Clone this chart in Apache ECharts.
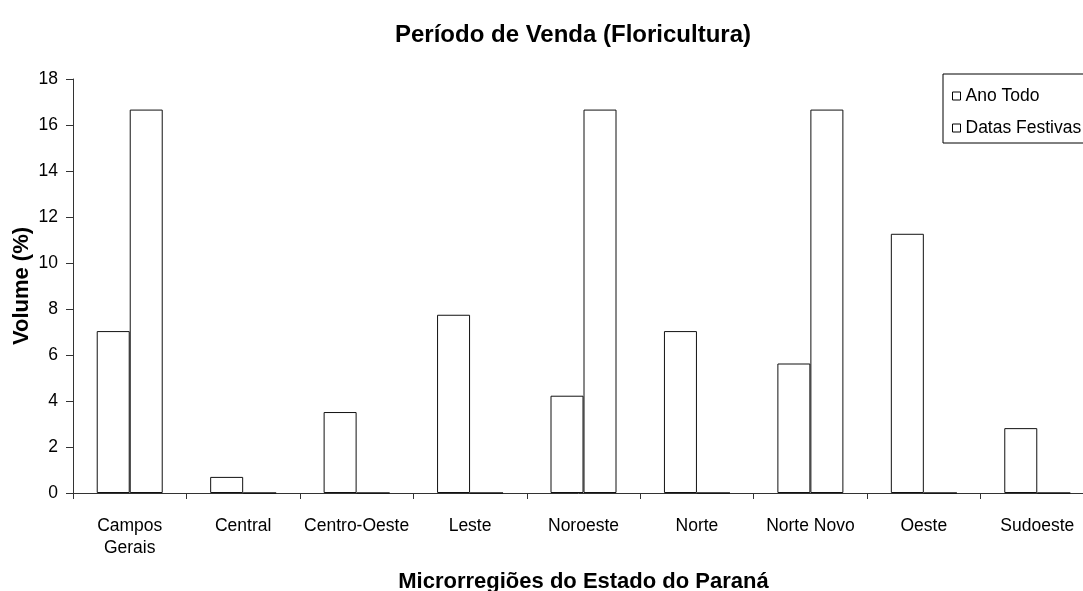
<!DOCTYPE html>
<html>
<head>
<meta charset="utf-8">
<script src="https://cdn.jsdelivr.net/npm/echarts@6/dist/echarts.min.js"></script>
<style>
  html, body { margin: 0; padding: 0; background: #fff; }
  #chart { width: 1083px; height: 591px; }
</style>
</head>
<body>
<div id="chart"></div>
<script>
// microrregiões
const regioes = ['Campos\nGerais', 'Central', 'Centro-Oeste', 'Leste', 'Noroeste', 'Norte', 'Norte Novo', 'Oeste', 'Sudoeste']
const anoTodo = [7.04, 0.70, 3.52, 7.75, 4.23, 7.04, 5.63, 11.27, 2.82]
const datasFestivas = [16.67, 0, 0, 0, 16.67, 0, 16.67, 0, 0]
const yMin = 0
const yMax = 18
const yStep = 2

const font = 'Liberation Sans, Arial, sans-serif'

const chart = echarts.init(document.getElementById('chart'))

const barStyle = {
  color: '#ffffff',
  borderColor: '#111',
  borderWidth: 1
}

chart.setOption({
  animation: false,
  title: {
    text: 'Período de Venda (Floricultura)',
    left: 568,
    top: 18,
    textAlign: 'center',
    textStyle: { fontFamily: font, fontSize: 24, fontWeight: 'bold', color: '#000' }
  },
  legend: {
    orient: 'vertical',
    left: 943,
    top: 74,
    padding: [13, 30, 6, 9],
    itemGap: 14,
    itemWidth: 8,
    itemHeight: 8,
    icon: 'rect',
    borderColor: '#000',
    borderWidth: 1,
    itemStyle: { borderWidth: 1, borderColor: '#000', color: '#fff' },
    textStyle: { fontFamily: font, fontSize: 17.5, color: '#000' },
    data: ['Ano Todo', 'Datas Festivas']
  },
  grid: {
    left: 73,
    top: 79,
    width: 1021,
    height: 414,
    outerBoundsMode: 'none',
    containLabel: false
  },
  xAxis: {
    type: 'category',
    data: regioes,
    name: 'Microrregiões do Estado do Paraná',
    nameLocation: 'middle',
    nameGap: 78,
    nameTextStyle: { fontFamily: font, fontSize: 22, fontWeight: 'bold', color: '#000' },
    axisLine: { lineStyle: { color: '#333', width: 1 } },
    axisTick: { show: true, length: 6, lineStyle: { color: '#333' } },
    axisLabel: { fontFamily: font, fontSize: 17.5, color: '#000', margin: 22, lineHeight: 22, interval: 0 }
  },
  yAxis: {
    type: 'value',
    min: yMin,
    max: yMax,
    interval: yStep,
    name: 'Volume (%)',
    nameLocation: 'middle',
    nameGap: 40,
    nameMoveOverlap: false,
    nameTextStyle: { fontFamily: font, fontSize: 22, fontWeight: 'bold', color: '#000' },
    splitLine: { show: false },
    axisLine: { show: true, lineStyle: { color: '#333', width: 1 } },
    axisTick: { show: true, length: 7, lineStyle: { color: '#333' } },
    axisLabel: { fontFamily: font, fontSize: 17.5, color: '#000', margin: 15 }
  },
  series: [
    {
      name: 'Ano Todo',
      type: 'bar',
      barWidth: 33,
      barGap: '0%',
      itemStyle: barStyle,
      data: anoTodo
    },
    {
      name: 'Datas Festivas',
      type: 'bar',
      barWidth: 33,
      barGap: '0%',
      itemStyle: barStyle,
      data: datasFestivas
    }
  ]
})
</script>
</body>
</html>
